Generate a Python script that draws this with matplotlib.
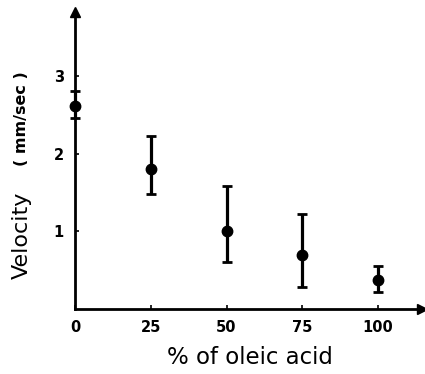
import matplotlib
matplotlib.use("Agg")
import matplotlib.pyplot as plt

# Data
oleic_pct = [0, 25, 50, 75, 100]
velocity = [2.62, 1.81, 1.01, 0.70, 0.38]
vel_upper = [2.81, 2.23, 1.59, 1.23, 0.56]
vel_lower = [2.46, 1.48, 0.61, 0.29, 0.22]
x_ticks = [0, 25, 50, 75, 100]
y_ticks = [1, 2, 3]

err_lo = [v - l for v, l in zip(velocity, vel_lower)]
err_hi = [u - v for v, u in zip(velocity, vel_upper)]

fig = plt.figure(figsize=(4.25, 3.74), dpi=100)
ax = fig.add_axes([75/425, 1 - 309/374, (422 - 75)/425, (309 - 12)/374])

ax.errorbar(oleic_pct, velocity, yerr=[err_lo, err_hi], fmt='o', color='black',
            markersize=7.5, elinewidth=2.3, capsize=3.5, capthick=2.0,
            clip_on=False, zorder=5)

ax.set_xlim(0, 114.5)
ax.set_ylim(0, 3.83)
ax.set_xticks(x_ticks)
ax.set_yticks(y_ticks)
ax.set_xticklabels([str(t) for t in x_ticks], fontsize=10.5, fontweight='bold')
ax.set_yticklabels([str(t) for t in y_ticks], fontsize=10.5, fontweight='bold')
ax.tick_params(direction='in', length=3, width=1.2, pad=8)

for s in ['top', 'right']:
    ax.spines[s].set_visible(False)
for s in ['left', 'bottom']:
    ax.spines[s].set_linewidth(2.0)

# arrows
ax.plot(1, 0, marker='>', color='black', markersize=7, transform=ax.transAxes, clip_on=False)
ax.plot(0, 1, marker='^', color='black', markersize=7, transform=ax.transAxes, clip_on=False)

fig.text(250/425, 1 - 357/374, '% of oleic acid', fontsize=16.5, ha='center', va='center')
fig.text(22/425, 1 - 235/374, 'Velocity', fontsize=16, fontweight='medium', rotation=90,
         ha='center', va='center')
fig.text(22/425, 1 - 119/374, '( mm/sec )', fontsize=11.5, fontweight='bold', rotation=90,
         ha='center', va='center')

fig.savefig('out.png', dpi=100)
